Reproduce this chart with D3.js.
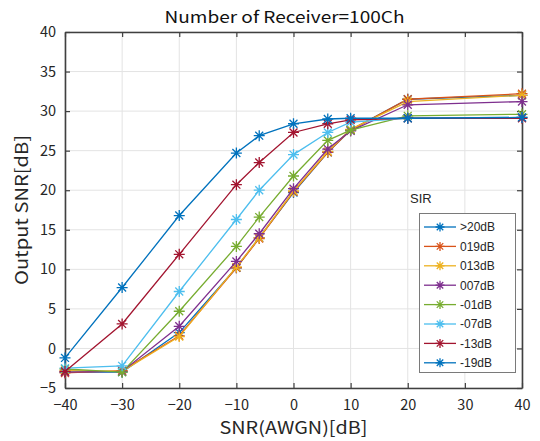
<!DOCTYPE html>
<html><head><meta charset="utf-8">
<script src="https://cdn.jsdelivr.net/npm/d3@7"></script>
<style>
html,body{margin:0;padding:0;background:#fff;}
svg{display:block;font-family:"Noto Sans CJK JP","DejaVu Sans",sans-serif;}
</style></head>
<body>
<svg id="chart" width="540" height="441"></svg>
<script>
const xValues = [-40, -30, -20, -10, -6, 0, 6, 10, 20, 40];
const seriesNames = [">20dB", "019dB", "013dB", "007dB", "-01dB", "-07dB", "-13dB", "-19dB"];
const sGt20 = [-3.0, -3.0, 2.0, 10.2, 14.0, 19.7, 24.8, 27.6, 31.5, 32.0];
const s019 = [-3.1, -2.8, 1.6, 10.2, 13.9, 19.8, 24.8, 27.6, 31.5, 32.2];
const s013 = [-2.8, -2.9, 1.5, 10.3, 14.0, 19.9, 24.9, 27.7, 31.2, 32.0];
const s007 = [-3.0, -2.9, 2.8, 11.0, 14.5, 20.2, 25.2, 27.5, 30.8, 31.2];
const sM01 = [-2.6, -3.0, 4.7, 12.9, 16.6, 21.8, 26.3, 27.6, 29.4, 29.6];
const sM07 = [-2.5, -2.2, 7.2, 16.3, 20.0, 24.5, 27.3, 28.6, 29.1, 29.2];
const sM13 = [-2.9, 3.1, 11.9, 20.7, 23.5, 27.3, 28.4, 28.9, 29.1, 29.1];
const sM19 = [-1.2, 7.7, 16.8, 24.7, 26.9, 28.4, 29.0, 29.1, 29.1, 29.2];
const seriesValues = [sGt20, s019, s013, s007, sM01, sM07, sM13, sM19];
const colors = ["#0072BD", "#D95319", "#EDB120", "#7E2F8E", "#77AC30", "#4DBEEE", "#A2142F", "#0072BD"];
const xTicks = [-40, -30, -20, -10, 0, 10, 20, 30, 40];
const yTicks = [-5, 0, 5, 10, 15, 20, 25, 30, 35, 40];
const titleText = "Number of Receiver=100Ch";
const xLabel = "SNR(AWGN)[dB]";
const yLabel = "Output SNR[dB]";
const legendTitle = "SIR";

const svg = d3.select("#chart");
const L = 65, R = 522, T = 32, B = 388;
const x = d3.scaleLinear().domain([-40, 40]).range([L, R]);
const y = d3.scaleLinear().domain([-5, 40]).range([B, T]);
const axisColor = "#404040";
const fmt = d => d < 0 ? "\u2212" + Math.abs(d) : String(d);

// grid
const g = svg.append("g");
g.selectAll(".gx").data(xTicks).enter().append("line")
  .attr("x1", d => x(d)).attr("x2", d => x(d)).attr("y1", T).attr("y2", B)
  .attr("stroke", "#e3e3e3").attr("stroke-width", 1);
g.selectAll(".gy").data(yTicks).enter().append("line")
  .attr("y1", d => y(d)).attr("y2", d => y(d)).attr("x1", L).attr("x2", R)
  .attr("stroke", "#e3e3e3").attr("stroke-width", 1);

// axes
const tickLen = 5;
const xb = svg.append("g").attr("transform", `translate(0,${B})`)
  .call(d3.axisBottom(x).tickValues(xTicks).tickFormat(fmt).tickSizeInner(-tickLen).tickSizeOuter(0).tickPadding(12));
const xt = svg.append("g").attr("transform", `translate(0,${T})`)
  .call(d3.axisTop(x).tickValues(xTicks).tickFormat("").tickSizeInner(-tickLen).tickSizeOuter(0));
const yl = svg.append("g").attr("transform", `translate(${L},0)`)
  .call(d3.axisLeft(y).tickValues(yTicks).tickFormat(fmt).tickSizeInner(-tickLen).tickSizeOuter(0).tickPadding(9));
const yr = svg.append("g").attr("transform", `translate(${R},0)`)
  .call(d3.axisRight(y).tickValues(yTicks).tickFormat("").tickSizeInner(-tickLen).tickSizeOuter(0));
[xb, xt, yl, yr].forEach(a => {
  a.select(".domain").attr("stroke", axisColor).attr("stroke-width", 1.6);
  a.selectAll(".tick line").attr("stroke", axisColor).attr("stroke-width", 1.2);
  a.selectAll("text").attr("fill", "#262626").attr("font-size", 14.5)
    .attr("font-family", "'Noto Sans CJK JP','DejaVu Sans',sans-serif");
});

// series
const line = d3.line().x((d, i) => x(xValues[i])).y(d => y(d));
const star = (cx, cy, r) => {
  const r2 = r * 0.72;
  return `M${cx - r},${cy}L${cx + r},${cy}M${cx},${cy - r}L${cx},${cy + r}` +
    `M${cx - r2},${cy - r2}L${cx + r2},${cy + r2}M${cx - r2},${cy + r2}L${cx + r2},${cy - r2}`;
};
seriesValues.forEach((vals, si) => {
  const sg = svg.append("g");
  sg.append("path").datum(vals).attr("d", line).attr("fill", "none")
    .attr("stroke", colors[si]).attr("stroke-width", 1.3);
  sg.selectAll("path.m").data(vals).enter().append("path")
    .attr("d", (d, i) => star(x(xValues[i]), y(d), 5.5))
    .attr("stroke", colors[si]).attr("stroke-width", 1.3).attr("fill", "none");
});

// title and labels
svg.append("text").attr("x", (L + R) / 2 - 9).attr("y", 23).attr("text-anchor", "middle")
  .attr("font-size", 16.5).attr("fill", "#111")
  .attr("textLength", 240).attr("lengthAdjust", "spacingAndGlyphs").text(titleText);
svg.append("text").attr("x", (L + R) / 2).attr("y", 434).attr("text-anchor", "middle")
  .attr("font-size", 17).attr("fill", "#262626")
  .attr("textLength", 148).attr("lengthAdjust", "spacingAndGlyphs").text(xLabel);
svg.append("text").attr("transform", `translate(28,${(T + B) / 2}) rotate(-90)`)
  .attr("text-anchor", "middle").attr("font-size", 17).attr("fill", "#262626")
  .attr("textLength", 150).attr("lengthAdjust", "spacingAndGlyphs").text(yLabel);

// legend
svg.append("text").attr("x", 410).attr("y", 203).attr("font-size", 13).attr("fill", "#262626")
  .attr("font-family", "'Liberation Sans',Arial,sans-serif").text(legendTitle);
const lg = svg.append("g");
lg.append("rect").attr("x", 419.5).attr("y", 213.5).attr("width", 96).attr("height", 159)
  .attr("fill", "#fff").attr("stroke", "#7a7a7a").attr("stroke-width", 1);
seriesNames.forEach((n, i) => {
  const yy = 227 + i * 19.4;
  lg.append("line").attr("x1", 424).attr("x2", 456).attr("y1", yy).attr("y2", yy)
    .attr("stroke", colors[i]).attr("stroke-width", 1.3);
  lg.append("path").attr("d", star(440, yy, 4.5)).attr("stroke", colors[i]).attr("stroke-width", 1.3);
  lg.append("text").attr("x", 460).attr("y", yy + 4.3).attr("font-size", 12)
    .attr("font-family", "'Liberation Sans',Arial,sans-serif").attr("fill", "#262626").text(n);
});
</script>
</body></html>
